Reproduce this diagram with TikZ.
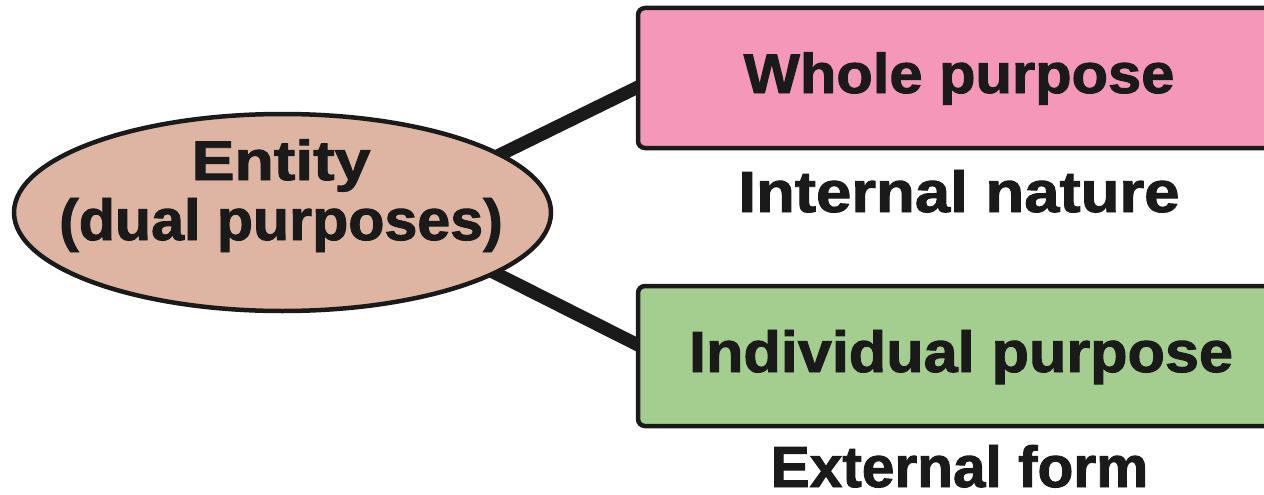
\documentclass[tikz,border=0pt]{standalone}
\usepackage{fontspec}
\setmainfont{Liberation Sans}[BoldFeatures={FakeBold=1.6}]
\usetikzlibrary{shapes.geometric,backgrounds}
\definecolor{inkc}{HTML}{1A1A1A}
\definecolor{pinkc}{HTML}{F497B9}
\definecolor{greenc}{HTML}{A3CE8F}
\definecolor{tanc}{HTML}{DDB5A2}
\begin{document}
\begin{tikzpicture}[x=1pt,y=-1pt,
  lbl/.style={inner sep=0pt,anchor=base,text=inkc,font=\bfseries},
  purposebox/.style={rectangle,draw=inkc,line width=4.5pt,rounded corners=7pt,inner sep=0pt,minimum width=662pt,minimum height=140pt},
  link/.style={draw=inkc,line width=13pt,shorten <=-8pt,shorten >=-6pt}]
\useasboundingbox (0,0) rectangle (1264,495);
% entity ellipse
\node[ellipse,draw=inkc,line width=4.5pt,fill=tanc,minimum width=537pt,minimum height=197pt,inner sep=0pt] (ent) at (282.5,212.5) {};
% boxes
\node[purposebox,fill=pinkc] (whole) at (969,78) {};
\node[purposebox,fill=greenc] (indiv) at (969,356) {};
\coordinate (wIn) at (638,87);
\coordinate (iIn) at (638,345);
% connectors
\begin{scope}[on background layer]
\draw[link] (ent.15.5) -- (wIn);
\draw[link] (ent.-16) -- (iIn);
\end{scope}
% texts
\node[lbl] (t1) at (281,180) {\fontsize{56}{60}\selectfont\scalebox{1.15}[1]{Entity}};
\node[lbl] (t2) at (281,240) {\fontsize{58}{60}\selectfont\scalebox{1.02}[1]{(dual purposes)}};
\node[lbl] (t3) at (959,93) {\fontsize{56}{60}\selectfont\scalebox{1.065}[1]{Whole purpose}};
\node[lbl] (t4) at (959,212) {\fontsize{58}{60}\selectfont\scalebox{1.095}[1]{Internal nature}};
\node[lbl] (t5) at (961,372) {\fontsize{58}{60}\selectfont\scalebox{1.055}[1]{Individual purpose}};
\node[lbl] (t6) at (959.5,487) {\fontsize{58}{60}\selectfont\scalebox{1.01}[1]{External form}};
\end{tikzpicture}
\end{document}
